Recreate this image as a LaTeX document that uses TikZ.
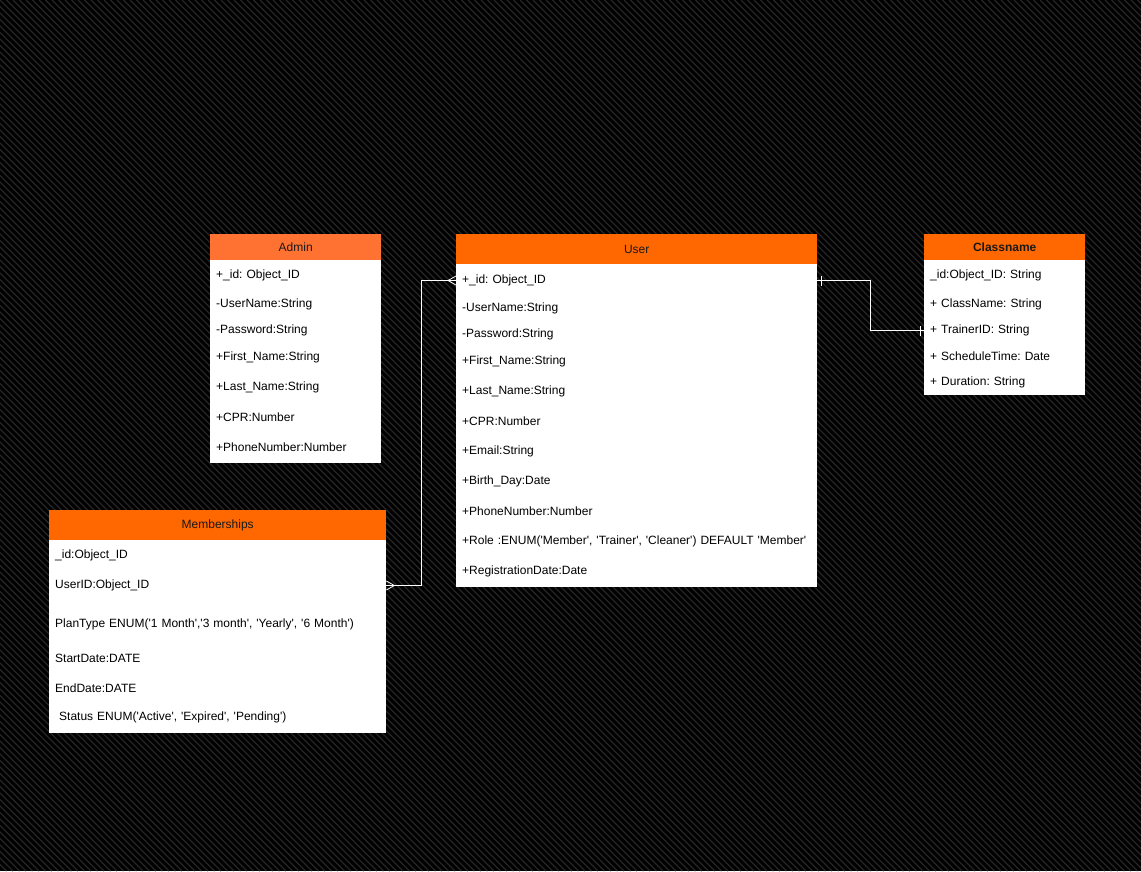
\documentclass[tikz,border=0pt]{standalone}
\usepackage{fontspec}
\newfontfamily\uifont{Liberation Sans}
\usetikzlibrary{decorations.markings}

\definecolor{stripegray}{RGB}{38,38,38}
\definecolor{adminorange}{RGB}{255,114,50}
\definecolor{headorange}{RGB}{255,104,0}

\tikzset{
  stripe/.style={draw=stripegray, line width=1.3pt},
  table/.style={fill=white, anchor=north west, inner sep=0pt},
  head/.style={fill=headorange, anchor=north west, inner sep=0pt, text=black!90,
    font=\uifont\fontsize{12}{14}\selectfont},
  row/.style={anchor=west, inner xsep=6pt, inner ysep=0pt, yshift=-1.5pt, align=left, text width=#1,
    font=\uifont\frenchspacing\fontsize{12}{14}\selectfont},
  link/.style={draw=white, line width=0.8pt},
  many start/.style={postaction={decorate, decoration={markings, mark=at position 8pt with
    {\draw[link] (0,0) -- (-8pt,4.5pt) (0,0) -- (-8pt,-4.5pt);}}}},
  many end/.style={postaction={decorate, decoration={markings, mark=at position -8pt with
    {\draw[link] (0,0) -- (8pt,4.5pt) (0,0) -- (8pt,-4.5pt);}}}},
  one start/.style={postaction={decorate, decoration={markings, mark=at position 4pt with
    {\draw[link] (0,-5pt) -- (0,5pt);}}}},
  one end/.style={postaction={decorate, decoration={markings, mark=at position -4pt with
    {\draw[link] (0,-5pt) -- (0,5pt);}}}}
}

\begin{document}
\begin{tikzpicture}[x=1pt, y=-1pt]
  % hatched background
  \fill[black] (0,0) rectangle (1141,871);
  \begin{scope}
    \clip (0,0) rectangle (1141,871);
    \foreach \c in {-871,-864.5,...,1141}
      \draw[stripe] (\c,0) -- ++(871,871);
  \end{scope}

  % Admin
  \node[table, minimum width=171pt, minimum height=229pt] (adminbox) at (210,234) {};
  \node[head, fill=adminorange, minimum width=171pt, minimum height=26pt] (admin) at (210,234) {Admin};
  \foreach \y/\t [count=\i] in {274/{+\_id: Object\_ID}, 303/{-UserName:String}, 329/{-Password:String},
      356/{+First\_Name:String}, 386/{+Last\_Name:String}, 416/{+CPR:Number}, 446/{+PhoneNumber:Number}}
    \node[row=159pt] (adm\i) at (210,\y) {\t};

  % User
  \node[table, minimum width=361pt, minimum height=353pt] (userbox) at (456,234) {};
  \node[head, minimum width=361pt, minimum height=30pt] (user) at (456,234) {User};
  \foreach \y/\t [count=\i] in {279/{+\_id: Object\_ID}, 307/{-UserName:String}, 333/{-Password:String},
      360/{+First\_Name:String}, 390/{+Last\_Name:String}, 420/{+CPR:Number}, 450/{+Email:String},
      480/{+Birth\_Day:Date}, 510/{+PhoneNumber:Number},
      540/{+Role :ENUM('Member', 'Trainer', 'Cleaner') DEFAULT 'Member'}, 570/{+RegistrationDate:Date}}
    \node[row=349pt] (usr\i) at (456,\y) {\t};

  % Classname
  \node[table, minimum width=161pt, minimum height=161pt] (classbox) at (924,234) {};
  \node[head, minimum width=161pt, minimum height=26pt, font=\uifont\bfseries\fontsize{12}{14}\selectfont] (classname) at (924,234) {Classname};
  \foreach \y/\t [count=\i] in {274/{\_id:Object\_ID: String}, 303/{+ ClassName: String},
      329/{+ TrainerID: String}, 355/{+ ScheduleTime: Date}, 381/{+ Duration: String}}
    \node[row=149pt] (cls\i) at (924,\y) {\t};

  % Memberships
  \node[table, minimum width=337pt, minimum height=223pt] (membox) at (49,510) {};
  \node[head, minimum width=337pt, minimum height=30pt] (memberships) at (49,510) {Memberships};
  \foreach \y/\t [count=\i] in {554/{\_id:Object\_ID}, 584/{UserID:Object\_ID},
      623/{PlanType ENUM('1 Month','3 month', 'Yearly', '6 Month')}, 657/{StartDate:DATE},
      687/{EndDate:DATE}, 716/{\ Status ENUM('Active', 'Expired', 'Pending')}}
    \node[row=325pt] (mem\i) at (49,\y) {\t};

  % relations
  \draw[link, many start, many end] (mem2.east) -- ++(35,0) |- (usr1.west);
  \draw[link, one start, one end] (usr1.east) -- ++(53,0) |- (cls3.west);
\end{tikzpicture}
\end{document}
